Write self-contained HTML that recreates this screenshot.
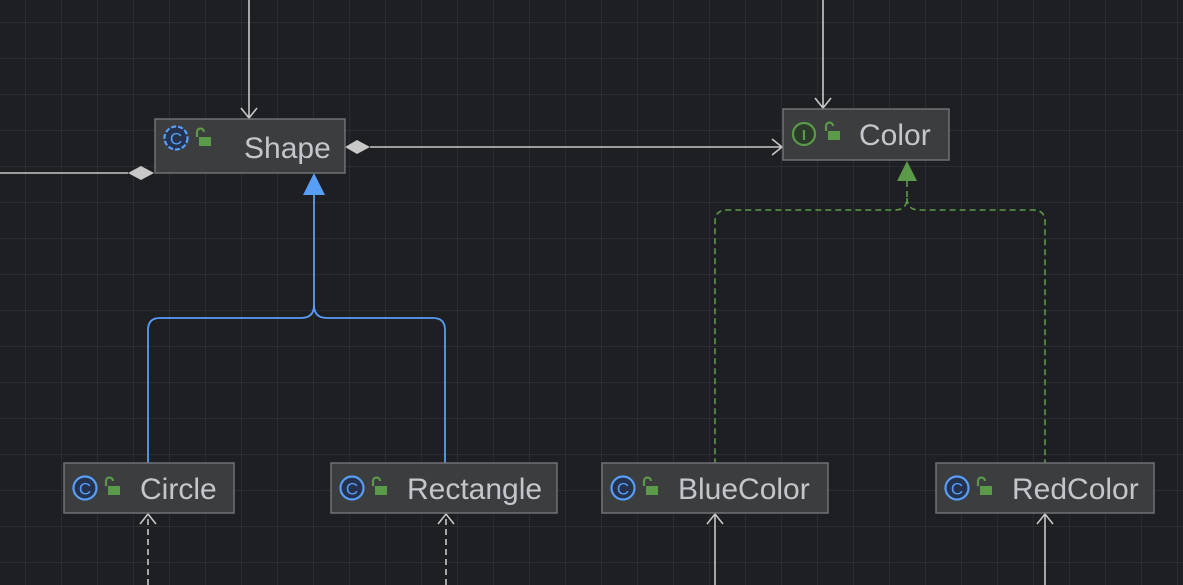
<!DOCTYPE html>
<html><head><style>
html,body{margin:0;padding:0;background:#1e1f22;width:1183px;height:585px;overflow:hidden}
</style></head><body>
<svg width="1183" height="585" xmlns="http://www.w3.org/2000/svg" style="position:absolute;left:0;top:0">
<defs>
<pattern id="g" x="25" y="22" width="36" height="36" patternUnits="userSpaceOnUse">
<path d="M0 0H36M0 0V36" stroke="#33353a" stroke-width="1.2" fill="none"/>
</pattern>
</defs>
<rect width="1183" height="585" fill="#1e1f22"/>
<rect width="1183" height="585" fill="url(#g)"/>
<g stroke="#c8c8c8" stroke-width="1.6" fill="none">
<path d="M249 0V118M241 108L249 118L257 108"/>
<path d="M823 0V108M815 98L823 108L831 98"/>
<path d="M0 173H128"/>
<path d="M370 147H782M772 139L782 147L772 155"/>
</g>
<path d="M128 173L141 166L154 173L141 180Z" fill="#c8c8c8"/>
<path d="M345 147L357 140L370 147L357 154Z" fill="#c8c8c8"/>
<g stroke="#589df6" stroke-width="1.8" fill="none">
<path d="M314 195V305Q314 318 301 318H160Q148 318 148 330V463"/>
<path d="M314 305Q314 318 327 318H433Q445 318 445 330V463"/>
</g>
<path d="M314 173L303 195H325Z" fill="#589df6"/>
<g stroke="#5a9a48" stroke-width="1.6" fill="none" stroke-dasharray="6 4">
<path d="M907 181V198Q907 210 895 210H727Q715 210 715 222V463"/>
<path d="M907 198Q907 210 919 210H1033Q1045 210 1045 222V463"/>
</g>
<path d="M907 161L897 181H917Z" fill="#5a9a48"/>
<g stroke="#c8c8c8" stroke-width="1.6" fill="none">
<path d="M148 585V515" stroke-dasharray="6 4"/><path d="M140 524L148 514L156 524"/>
<path d="M446 585V515" stroke-dasharray="6 4"/><path d="M438 524L446 514L454 524"/>
<path d="M715 585V515"/><path d="M707 524L715 514L723 524"/>
<path d="M1045 585V515"/><path d="M1037 524L1045 514L1053 524"/>
</g>
<g font-family="Liberation Sans, sans-serif" font-size="30" fill="#c3c6cb">
<rect x="155" y="119" width="190" height="54" fill="#3c3d3f" stroke="#6f7175" stroke-width="1.5"/>
<circle cx="176" cy="138" r="11.5" fill="#25324d" stroke="#589df6" stroke-width="2.2" stroke-dasharray="5 2"/>
<text x="176" y="144.5" font-size="17" fill="#589df6" text-anchor="middle">C</text>
<rect x="199" y="137" width="12" height="9" fill="#5a9a48"/><path d="M197 137V132a3.5 3.5 0 0 1 7 0" stroke="#5a9a48" stroke-width="2.2" fill="none"/>
<text x="244" y="158">Shape</text>

<rect x="783" y="109" width="166" height="51" fill="#3c3d3f" stroke="#6f7175" stroke-width="1.5"/>
<circle cx="804" cy="134" r="11" fill="#2b3a2a" stroke="#5a9a48" stroke-width="2.2"/>
<text x="804" y="140" font-size="15" fill="#5a9a48" text-anchor="middle" font-weight="bold">I</text>
<rect x="828" y="131" width="12" height="9" fill="#5a9a48"/><path d="M826 131V126a3.5 3.5 0 0 1 7 0" stroke="#5a9a48" stroke-width="2.2" fill="none"/>
<text x="859" y="145">Color</text>

<rect x="64" y="463" width="170" height="50" fill="#3c3d3f" stroke="#6f7175" stroke-width="1.5"/>
<circle cx="85" cy="488" r="11.5" fill="#25324d" stroke="#589df6" stroke-width="2.2"/>
<text x="85" y="494.5" font-size="17" fill="#589df6" text-anchor="middle">C</text>
<rect x="108" y="486" width="12" height="9" fill="#5a9a48"/><path d="M106 486V481a3.5 3.5 0 0 1 7 0" stroke="#5a9a48" stroke-width="2.2" fill="none"/>
<text x="140" y="499">Circle</text>

<rect x="331" y="463" width="226" height="50" fill="#3c3d3f" stroke="#6f7175" stroke-width="1.5"/>
<circle cx="352" cy="488" r="11.5" fill="#25324d" stroke="#589df6" stroke-width="2.2"/>
<text x="352" y="494.5" font-size="17" fill="#589df6" text-anchor="middle">C</text>
<rect x="375" y="486" width="12" height="9" fill="#5a9a48"/><path d="M373 486V481a3.5 3.5 0 0 1 7 0" stroke="#5a9a48" stroke-width="2.2" fill="none"/>
<text x="407" y="499">Rectangle</text>

<rect x="602" y="463" width="226" height="50" fill="#3c3d3f" stroke="#6f7175" stroke-width="1.5"/>
<circle cx="623" cy="488" r="11.5" fill="#25324d" stroke="#589df6" stroke-width="2.2"/>
<text x="623" y="494.5" font-size="17" fill="#589df6" text-anchor="middle">C</text>
<rect x="646" y="486" width="12" height="9" fill="#5a9a48"/><path d="M644 486V481a3.5 3.5 0 0 1 7 0" stroke="#5a9a48" stroke-width="2.2" fill="none"/>
<text x="678" y="499">BlueColor</text>

<rect x="936" y="463" width="218" height="50" fill="#3c3d3f" stroke="#6f7175" stroke-width="1.5"/>
<circle cx="957" cy="488" r="11.5" fill="#25324d" stroke="#589df6" stroke-width="2.2"/>
<text x="957" y="494.5" font-size="17" fill="#589df6" text-anchor="middle">C</text>
<rect x="980" y="486" width="12" height="9" fill="#5a9a48"/><path d="M978 486V481a3.5 3.5 0 0 1 7 0" stroke="#5a9a48" stroke-width="2.2" fill="none"/>
<text x="1012" y="499">RedColor</text>
</g>
</svg>
</body></html>
